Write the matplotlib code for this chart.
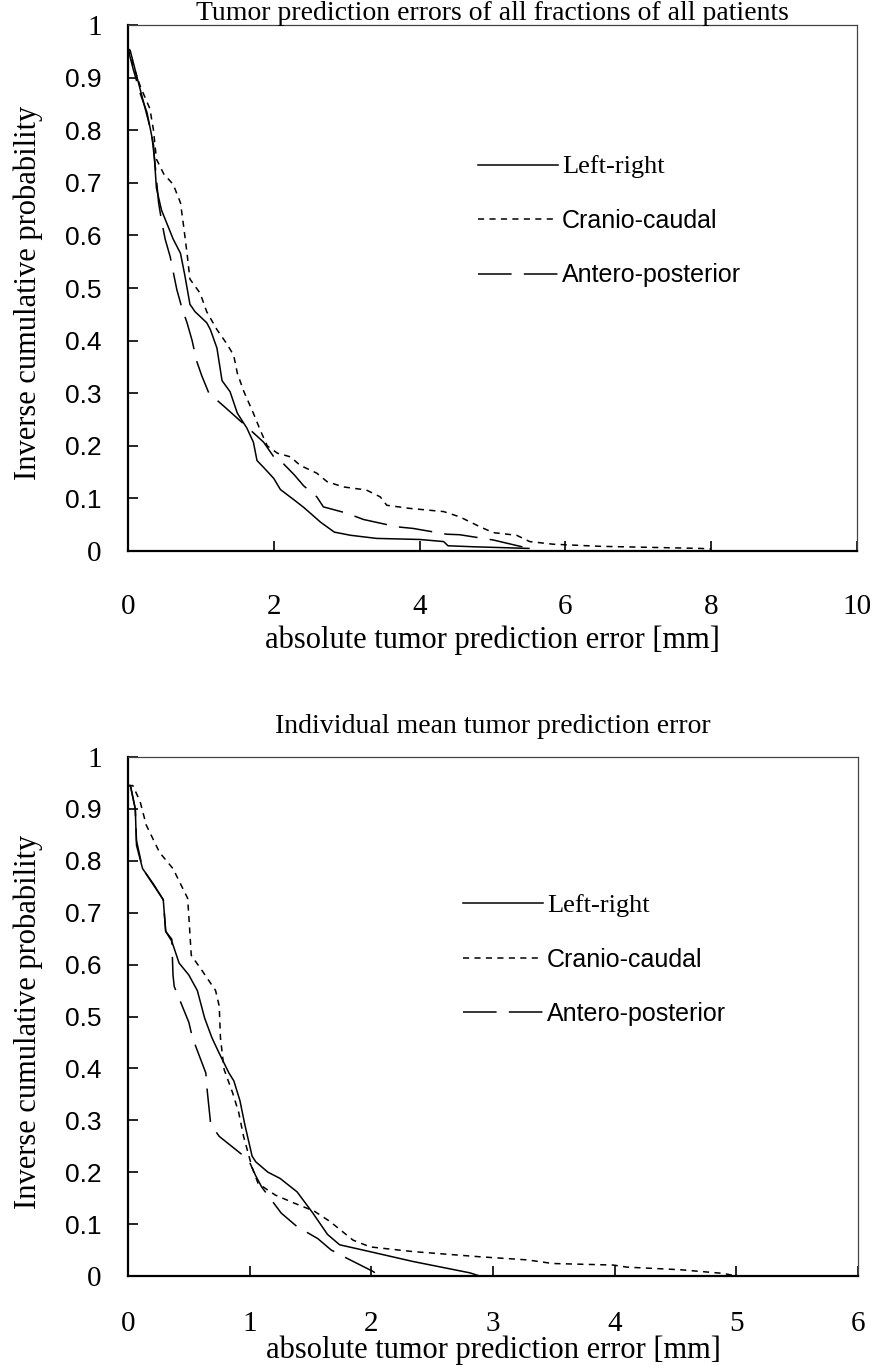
import matplotlib
matplotlib.use("Agg")
import matplotlib.pyplot as plt

# ---------------- data: top panel (all fractions of all patients) ----------------
top_lr_x = [0.0, 0.03, 0.12, 0.21, 0.30, 0.35, 0.39, 0.46, 0.62, 0.72, 0.78, 0.85, 0.92, 1.08, 1.13,
            1.22, 1.29, 1.40, 1.50, 1.63, 1.72, 1.77, 1.86, 2.00, 2.09, 2.28, 2.41, 2.55, 2.64, 2.83,
            3.05, 3.41, 4.00, 4.33, 4.39, 4.76, 5.50]
top_lr_y = [0.955, 0.952, 0.903, 0.855, 0.807, 0.772, 0.690, 0.648, 0.593, 0.566, 0.524, 0.469, 0.455,
            0.434, 0.421, 0.386, 0.324, 0.303, 0.262, 0.234, 0.207, 0.172, 0.159, 0.138, 0.117, 0.097,
            0.083, 0.066, 0.055, 0.036, 0.030, 0.024, 0.022, 0.018, 0.010, 0.008, 0.005]

top_cc_x = [0.0, 0.07, 0.17, 0.30, 0.35, 0.39, 0.49, 0.62, 0.72, 0.76, 0.81, 0.85, 0.99, 1.08, 1.22,
            1.36, 1.45, 1.50, 1.59, 1.72, 1.82, 1.91, 2.05, 2.23, 2.36, 2.59, 2.73, 2.95, 3.27, 3.46,
            3.55, 3.87, 4.33, 4.55, 4.83, 5.01, 5.33, 5.51, 5.83, 6.47, 7.85, 8.00]
top_cc_y = [0.955, 0.924, 0.883, 0.841, 0.800, 0.745, 0.717, 0.697, 0.662, 0.621, 0.566, 0.517, 0.490,
            0.455, 0.421, 0.393, 0.372, 0.338, 0.303, 0.262, 0.228, 0.200, 0.186, 0.179, 0.163, 0.148,
            0.132, 0.122, 0.116, 0.103, 0.087, 0.081, 0.075, 0.065, 0.046, 0.035, 0.030, 0.018, 0.013,
            0.009, 0.005, 0.004]

top_ap_x = [0.0, 0.07, 0.17, 0.26, 0.33, 0.37, 0.42, 0.46, 0.51, 0.58, 0.62, 0.67, 0.74, 0.81, 0.88,
            0.94, 1.01, 1.11, 1.31, 1.60, 1.86, 2.00, 2.09, 2.28, 2.41, 2.59, 2.68, 3.00, 3.23, 3.69,
            3.91, 4.37, 4.55, 5.01, 5.50]
top_ap_y = [0.955, 0.917, 0.869, 0.834, 0.786, 0.738, 0.662, 0.628, 0.593, 0.559, 0.531, 0.497, 0.462,
            0.434, 0.400, 0.362, 0.334, 0.300, 0.276, 0.240, 0.207, 0.179, 0.172, 0.145, 0.124, 0.103,
            0.084, 0.072, 0.060, 0.046, 0.043, 0.032, 0.031, 0.021, 0.005]

# ---------------- data: bottom panel (individual mean error) ----------------
bot_lr_x = [0.0, 0.02, 0.06, 0.07, 0.12, 0.21, 0.29, 0.31, 0.36, 0.42, 0.50, 0.57, 0.63, 0.69, 0.75,
            0.83, 0.87, 0.92, 0.96, 1.02, 1.05, 1.15, 1.25, 1.39, 1.52, 1.64, 1.74, 1.93, 2.34, 2.81, 2.89]
bot_lr_y = [0.945, 0.945, 0.900, 0.830, 0.785, 0.755, 0.725, 0.664, 0.645, 0.603, 0.580, 0.550, 0.497,
            0.459, 0.429, 0.391, 0.376, 0.338, 0.292, 0.231, 0.220, 0.200, 0.188, 0.162, 0.121, 0.080,
            0.060, 0.050, 0.028, 0.006, 0.000]

bot_cc_x = [0.0, 0.04, 0.10, 0.15, 0.26, 0.37, 0.49, 0.50, 0.52, 0.61, 0.72, 0.75, 0.76, 0.79, 0.86,
            0.91, 0.95, 1.02, 1.07, 1.21, 1.37, 1.53, 1.66, 1.85, 1.99, 2.34, 2.89, 3.28, 3.49, 3.99,
            4.10, 4.54, 4.89, 5.00]
bot_cc_y = [0.945, 0.945, 0.914, 0.869, 0.816, 0.785, 0.728, 0.694, 0.618, 0.588, 0.550, 0.520, 0.459,
            0.398, 0.353, 0.315, 0.269, 0.209, 0.178, 0.156, 0.140, 0.125, 0.105, 0.069, 0.056, 0.047,
            0.037, 0.031, 0.024, 0.021, 0.017, 0.012, 0.005, 0.000]

bot_ap_x = [0.0, 0.02, 0.06, 0.07, 0.12, 0.29, 0.31, 0.36, 0.37, 0.38, 0.50, 0.53, 0.64, 0.65, 0.68,
            0.75, 0.99, 1.05, 1.10, 1.26, 1.39, 1.56, 1.67, 1.80, 2.02, 2.05]
bot_ap_y = [0.945, 0.945, 0.900, 0.839, 0.785, 0.725, 0.664, 0.649, 0.580, 0.558, 0.489, 0.459, 0.391,
            0.360, 0.292, 0.269, 0.224, 0.193, 0.171, 0.121, 0.095, 0.072, 0.050, 0.034, 0.008, 0.000]

series_labels = ["Left-right", "Cranio-caudal", "Antero-posterior"]
top_title = "Tumor prediction errors of all fractions of all patients"
bot_title = "Individual mean tumor prediction error"
xlabel = "absolute tumor prediction error [mm]"
ylabel = "Inverse cumulative probability"
top_xticks = [0, 2, 4, 6, 8, 10]
bot_xticks = [0, 1, 2, 3, 4, 5, 6]
yticks = [0, 0.1, 0.2, 0.3, 0.4, 0.5, 0.6, 0.7, 0.8, 0.9, 1]
ytick_labels = ["0", "0.1", "0.2", "0.3", "0.4", "0.5", "0.6", "0.7", "0.8", "0.9", "1"]

# ---------------- styling ----------------
SERIF = "Liberation Serif"
SANS = "Liberation Sans"
LW = 1.1
styles = [dict(linestyle="-"),
          dict(linestyle=(0, (4.0, 3.5))),
          dict(linestyle=(0, (22.0, 8.0)))]

fig = plt.figure(figsize=(8.73, 13.67), dpi=100)
ax1 = fig.add_axes([0.1466, 0.5969, 0.8351, 0.3848])
ax2 = fig.add_axes([0.1466, 0.0666, 0.8362, 0.3796])


def style_axes(ax, xticks, xmax, title, title_y, xpad, legend_anchor, xlab_y):
    ax.set_xlim(0, xmax)
    ax.set_ylim(0, 1)
    ax.set_xticks(xticks)
    ax.set_xticklabels([str(t) for t in xticks], family=SERIF, fontsize=21)
    ax.set_yticks(yticks)
    ax.set_yticklabels(ytick_labels, fontsize=19)
    for lab in ax.get_yticklabels():
        if lab.get_text() in ("0", "1"):
            lab.set_family(SERIF)
            lab.set_fontsize(21)
        else:
            lab.set_family(SANS)
    ax.tick_params(axis="x", direction="in", length=7, width=1.2, pad=xpad)
    ax.tick_params(axis="y", direction="in", length=7, width=1.2, pad=19)
    for s in ("left", "bottom"):
        ax.spines[s].set_linewidth(1.6)
        ax.spines[s].set_color("black")
    for s in ("top", "right"):
        ax.spines[s].set_linewidth(0.9)
        ax.spines[s].set_color("#444444")
    ax.set_title(title, family=SERIF, fontsize=20, pad=0, y=title_y, va="center")
    ax.set_ylabel(ylabel, family=SERIF, fontsize=22, va="center")
    ax.yaxis.set_label_coords(-0.137, 0.49)
    ax.set_xlabel(xlabel, family=SERIF, fontsize=22, va="center")
    ax.xaxis.set_label_coords(0.5, xlab_y)
    leg = ax.legend(loc="upper left", bbox_to_anchor=legend_anchor, frameon=False,
                    borderpad=0, borderaxespad=0,
                    handlelength=3.2, handletextpad=0.16, labelspacing=1.22, fontsize=18)
    texts = leg.get_texts()
    texts[0].set_family(SERIF)
    texts[0].set_fontsize(19)
    for t in texts[1:]:
        t.set_family(SANS)
    return leg


for xs, ys, st, lab in zip([top_lr_x, top_cc_x, top_ap_x], [top_lr_y, top_cc_y, top_ap_y],
                           styles, series_labels):
    ax1.plot(xs, ys, color="black", lw=LW, label=lab, **st)
style_axes(ax1, top_xticks, 10, top_title, 1.021, 31, (0.480, 0.752), -0.169)

for xs, ys, st, lab in zip([bot_lr_x, bot_cc_x, bot_ap_x], [bot_lr_y, bot_cc_y, bot_ap_y],
                           styles, series_labels):
    ax2.plot(xs, ys, color="black", lw=LW, label=lab, **st)
style_axes(ax2, bot_xticks, 6, bot_title, 1.058, 25, (0.459, 0.736), -0.1426)

fig.savefig("out.png", dpi=100, facecolor="white")
